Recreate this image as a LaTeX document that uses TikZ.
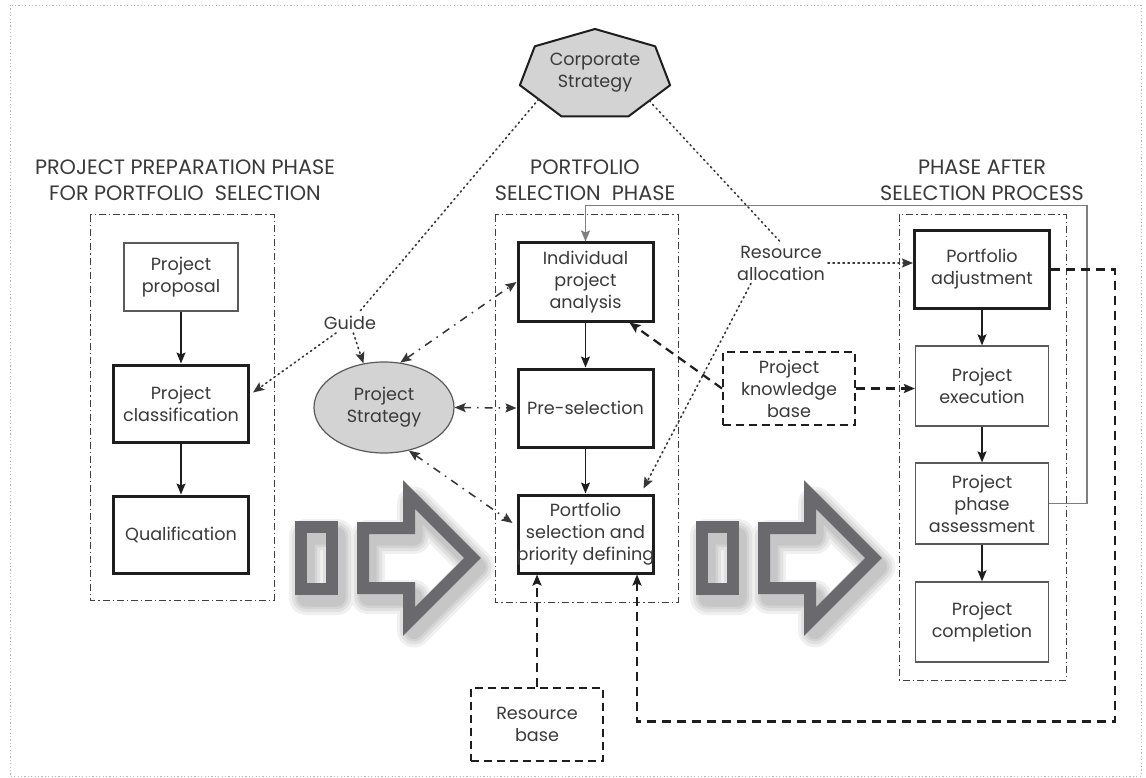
\documentclass[tikz,border=0pt]{standalone}
\usepackage{fontspec}
\setmainfont{Poppins}
\usetikzlibrary{arrows.meta,calc,shapes.geometric}

\definecolor{ink}{HTML}{3A3A3A}
\definecolor{edge}{HTML}{1E1E1E}
\definecolor{thinedge}{HTML}{5A5A5A}
\definecolor{shade}{HTML}{D3D3D3}
\definecolor{blockgray}{HTML}{6A6A6E}
\definecolor{fbgray}{HTML}{7E7E7E}

\newcommand\boxfont{\fontsize{17.6}{22}\selectfont}
\newcommand\titlefont{\fontsize{20.8}{26}\selectfont}

\tikzset{
  >={Stealth[length=11pt,width=9pt,inset=2pt]},
  box/.style={draw=edge, line width=3pt, minimum width=135pt, minimum height=78pt,
    align=center, font=\boxfont, text=ink, inner sep=2pt, fill=white},
  thinbox/.style={box, draw=thinedge, line width=1.3pt},
  dbox/.style={box, line width=2pt, dash pattern=on 8pt off 5pt,
    minimum width=132pt, minimum height=73pt},
  label/.style={align=center, font=\boxfont, text=ink, inner sep=3pt},
  title/.style={align=center, font=\titlefont, text=ink, inner sep=0pt},
  frame/.style={draw=black!75, line width=1pt, dash pattern=on 7pt off 3pt on 1.2pt off 3pt},
  flow/.style={->, line width=1.3pt, draw=edge},
  fb/.style={->, line width=1.5pt, draw=fbgray},
  dconn/.style={->, line width=2.2pt, draw=edge, dash pattern=on 9pt off 6pt},
  dotc/.style={line width=1.6pt, draw=edge!90, dash pattern=on 1.4pt off 3.6pt, line cap=round},
  ddc/.style={<->, line width=1.5pt, draw=edge!90, dash pattern=on 8pt off 6pt on 1.5pt off 6pt},
  blockline/.style={draw=blockgray, line width=12pt, line join=miter},
}

\newcommand\blockpair[1]{%
  \begin{scope}[shift={(#1,0)}]
    % soft shadow, offset down and right
    \foreach \w in {34,28,22,17}{
      \draw[black, opacity=0.06, line width=\w pt, line join=round, shift={(5,9)}]
        (702,527) rectangle (733,589)
        (764,528) -- (810,528) -- (810,494.5) -- (873.5,558) -- (810,621.5)
        -- (810,588) -- (764,588) -- cycle;
    }
    \draw[blockline] (702,527) rectangle (733,589);
    \draw[blockline] (764,528) -- (810,528) -- (810,494.5) -- (873.5,558)
      -- (810,621.5) -- (810,588) -- (764,588) -- cycle;
  \end{scope}}

\begin{document}
\begin{tikzpicture}[x=1pt,y=-1pt]
\useasboundingbox (0,0) rectangle (1146,778);
\fill[white] (0,0) rectangle (1146,778);

% outer border
\draw[gray!55, line width=0.8pt, dash pattern=on 1.2pt off 2.2pt] (10,5) rectangle (1141,776);

% phase frames
\draw[frame] (90,215) rectangle (274,600);
\draw[frame] (495,215) rectangle (678,602);
\draw[frame] (899,215) rectangle (1066,680);

% phase titles
\node[title] (T1) at (185,180) {PROJECT PREPARATION PHASE\\FOR PORTFOLIO\ \ SELECTION};
\node[title] (T2) at (585,180) {PORTFOLIO\\SELECTION\ \ PHASE};
\node[title] (T3) at (982,180) {PHASE AFTER\\SELECTION PROCESS};

% transition arrows between phases
\blockpair{-401}
\blockpair{0}

% corporate strategy heptagon
\draw[fill=shade, draw=edge, line width=2pt, line join=round]
  (595,29) -- (534.8,46.3) -- (519.9,85.2) -- (561.6,116.4) -- (628.4,116.4)
  -- (670.1,85.2) -- (655.2,46.3) -- cycle;
\coordinate (CSl) at (538.7,99.2);
\coordinate (CSr) at (649.3,100.8);
\node[label] (CS) at (595,73) {Corporate\\Strategy};

% preparation phase
\node[thinbox, minimum width=114pt, minimum height=68pt] (PP) at (181,277) {Project\\proposal};
\node[box, minimum height=77pt] (PC) at (181,403.5) {Project\\classification};
\node[box, minimum height=77pt] (Q) at (181,534.5) {Qualification};

% selection phase
\node[box] (IPA) at (585.5,282) {Individual\\project\\analysis};
\node[box] (PreSel) at (585.5,408) {Pre-selection};
\node[box] (PSPD) at (585.5,534) {Portfolio\\selection and\\\makebox[120pt][c]{priority defining}};

% after-selection phase
\node[box, minimum height=77pt] (PA) at (982,269.5) {Portfolio\\adjustment};
\node[thinbox, minimum width=133pt, minimum height=80pt] (PE) at (982,386) {Project\\execution};
\node[thinbox, minimum width=133pt, minimum height=81pt] (PPA) at (982,503.5) {Project\\phase\\assessment};
\node[thinbox, minimum width=133pt, minimum height=80pt] (PCo) at (982,622) {Project\\completion};

% bases and strategy
\node[dbox] (PKB) at (789,388.5) {Project\\knowledge\\base};
\node[dbox] (RB) at (537,724.5) {Resource\\base};
\node[ellipse, draw=thinedge, line width=1.2pt, fill=shade, minimum width=140pt,
  minimum height=91pt, align=center, font=\boxfont, text=ink, inner sep=0pt] (PS) at (384,407.5) {Project\\Strategy};

% free labels
\node[label] (G) at (350,323) {Guide};
\node[label] (RA) at (781,263) {Resource\\allocation};

% main flows
\draw[flow] (PP) -- (PC);
\draw[flow] (PC) -- (Q);
\draw[flow] (IPA) -- (PreSel);
\draw[flow] (PreSel) -- (PSPD);
\draw[flow] (PA) -- (PE);
\draw[flow] (PE) -- (PPA);
\draw[flow] (PPA) -- (PCo);

% feedback from assessment to analysis
\draw[fb] (PPA.east) -- ++(38,0) |- ($(IPA.north)+(0,-36)$) -- (IPA.north);

% dashed links
\draw[dconn] (PA.east) -- ++(64,0) |- ($(PSPD.south)+(51.5,147)$) -- ($(PSPD.south)+(51.5,0)$);
\draw[dconn] (RB.north) -- (RB.north |- PSPD.south);
\draw[dconn] (PKB.west) -- ($(IPA.south east)+(-25,0)$);
\draw[dconn] (PKB.east) -- (PKB.east -| PE.west);

% dotted guidance links
\draw[dotc] (CSl) -- (G);
\draw[dotc, ->] (G) -- ($(PC.east)+(3,-11)$);
\draw[dotc, ->] (G) -- (PS.115);
\draw[dotc] (CSr) -- (RA.north);
\draw[dotc, ->] (RA.east) -- (RA.east -| PA.west);
\draw[dotc, ->] ($(RA.south)+(-30,0)$) -- ($(PSPD.north east)+(-11,-5)$);

% strategy interactions
\draw[ddc] (PS.70) -- (IPA.west);
\draw[ddc] (PS.east) -- (PreSel.west);
\draw[ddc] (PS.-60) -- ($(PSPD.west)+(-4,-11)$);
\end{tikzpicture}
\end{document}
